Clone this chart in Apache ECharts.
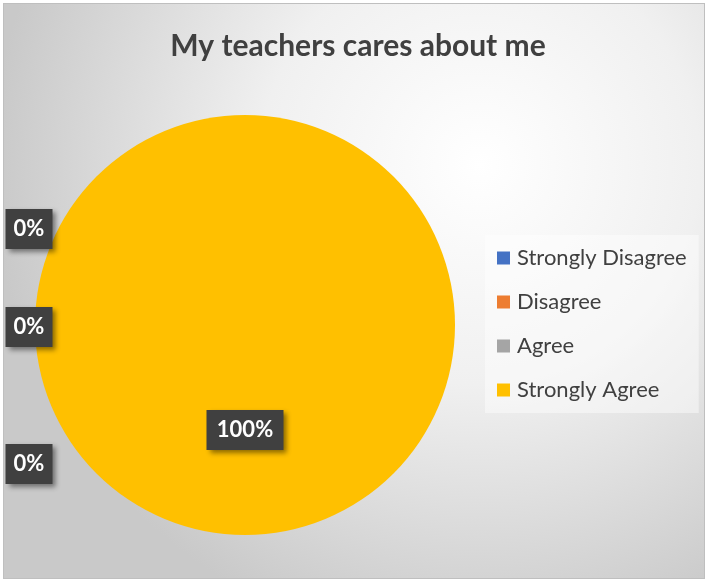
<!DOCTYPE html>
<html>
<head>
<meta charset="utf-8">
<script src="https://cdn.jsdelivr.net/npm/echarts@6/dist/echarts.min.js"></script>
<style>
  html, body { margin: 0; padding: 0; background: #fff; }
  #chart {
    position: absolute;
    left: 3px; top: 3px;
    width: 700px; height: 574px;
    border: 1px solid #bfbfbf;
  }
</style>
</head>
<body>
<div id="chart"></div>
<script>
const categories = ["Strongly Disagree", "Disagree", "Agree", "Strongly Agree"];
const responses = [0, 0, 0, 100];
const sliceColors = ["#4472C4", "#ED7D31", "#A5A5A5", "#FFC000"];

const chart = echarts.init(document.getElementById("chart"));

// label anchors (chart px) – Excel piles the zero slices' labels on the left
const labelSpots = [
  [25, 225],
  [25, 323],
  [25, 460],
  [241, 426],
];

const option = {
  backgroundColor: {
    type: "radial",
    x: 0.68,
    y: 0.28,
    r: 0.85,
    colorStops: [
      { offset: 0, color: "#ffffff" },
      { offset: 0.45, color: "#f0f0f0" },
      { offset: 1, color: "#c9c9c9" },
    ],
  },
  title: {
    text: "My teachers cares about me",
    left: 349,
    top: 22,
    textAlign: "center",
    textStyle: {
      fontFamily: "Lato, sans-serif",
      fontSize: 30,
      fontWeight: "bold",
      color: "#404040",
    },
  },
  legend: {
    orient: "vertical",
    left: 481,
    top: 231,
    padding: [12, 12, 12, 12],
    itemGap: 22,
    itemWidth: 13,
    itemHeight: 13,
    icon: "rect",
    backgroundColor: "rgba(255,255,255,0.45)",
    data: categories,
    textStyle: {
      fontFamily: "Lato, sans-serif",
      fontSize: 22,
      color: "#404040",
      padding: [0, 0, 0, 2],
    },
    selectedMode: false,
  },
  series: [
    {
      type: "pie",
      center: [241, 321],
      radius: 210,
      startAngle: 90,
      clockwise: true,
      silent: true,
      emphasis: { disabled: true },
      data: categories.map((name, i) => ({
        name,
        value: responses[i],
        itemStyle: { color: sliceColors[i] },
        // fixed box width so the pie layout doesn't squeeze edge labels
        label: { width: responses[i] === 0 ? 29 : 59, align: "center" },
      })),
      label: {
        show: true,
        formatter: "{d}%",
        fontFamily: "Lato, sans-serif",
        fontSize: 22,
        fontWeight: "bold",
        color: "#ffffff",
        lineHeight: 24,
        overflow: "none",
        backgroundColor: "#404040",
        padding: [8, 9, 8, 9],
        shadowColor: "rgba(0,0,0,0.45)",
        shadowBlur: 5,
        shadowOffsetX: 3,
        shadowOffsetY: 3,
      },
      labelLine: { show: false },
      labelLayout: (params) => {
        const p = labelSpots[params.dataIndex];
        return { x: p[0], y: p[1], align: "center", verticalAlign: "middle" };
      },
    },
  ],
};

chart.setOption(option);
window.addEventListener("resize", () => chart.resize());
</script>
</body>
</html>
